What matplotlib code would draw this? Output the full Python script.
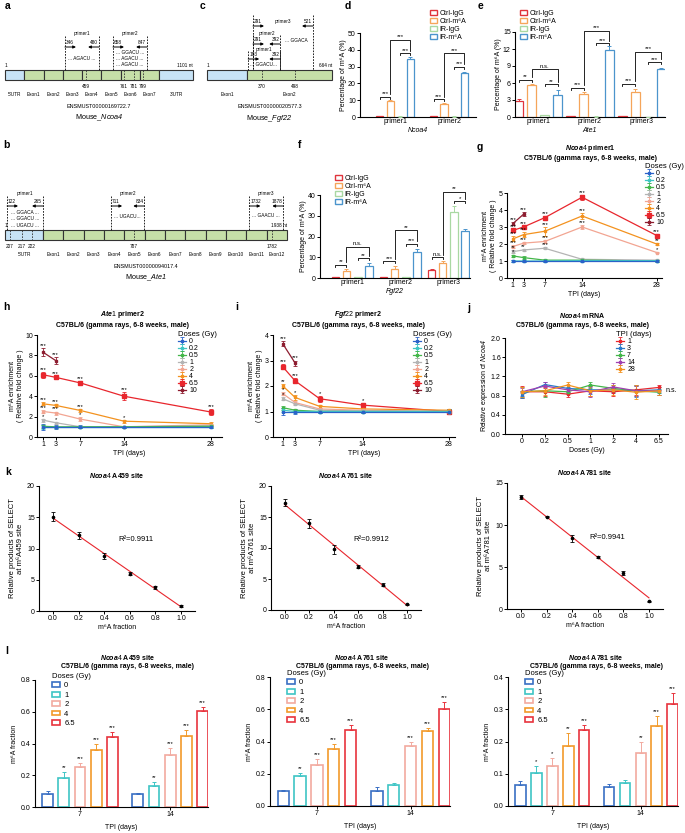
import numpy as np
import matplotlib
matplotlib.use("Agg")
import matplotlib.pyplot as plt
from matplotlib.patches import Rectangle, Patch

plt.rcParams["font.family"] = ["Liberation Sans", "DejaVu Sans"]
plt.rcParams["font.sans-serif"] = ["Liberation Sans"]
plt.rcParams["mathtext.fontset"] = "custom"
plt.rcParams["mathtext.rm"] = "sans"
plt.rcParams["mathtext.it"] = "sans:italic:bold"
plt.rcParams["mathtext.sf"] = "sans:italic"
plt.rcParams["mathtext.bf"] = "sans:bold"
plt.rcParams["axes.linewidth"] = 0.8

# ---------------- data ----------------
# gene maps (a, b, c)
ncoa4_segments = ["5'UTR", "Exon1", "Exon2", "Exon3", "Exon4", "Exon5", "Exon6", "Exon7", "3'UTR"]
ncoa4_sites = ["459", "761", "781", "799"]
ncoa4_primers = [("primer1", "346", "480"), ("primer2", "658", "847")]
ncoa4_seqs = ["... AGACU ...", "... GGACU ...", "... AGACU ...", "... AGACU ..."]

fgf22_segments = ["Exon1", "Exon2"]
fgf22_sites = ["370", "498"]
fgf22_primers = [("primer3", "291", "521"), ("primer2", "291", "392"), ("primer1", "193", "392")]
fgf22_seqs = ["... GGACA", "... GGACU..."]

ate1_segments = ["5'UTR", "Exon1", "Exon2", "Exon3", "Exon4", "Exon5", "Exon6",
                 "Exon7", "Exon8", "Exon9", "Exon10", "Exon11", "Exon12"]
ate1_sites = ["207", "217", "222", "787", "1782"]
ate1_primers = [("primer1", "122", "265"), ("primer2", "711", "834"), ("primer3", "1732", "1878")]
ate1_seqs = ["... GGACA ...", "... GGACU ...", "... UGACU ...", "... UGACU...", "... GAACU ..."]

# MeRIP bars (d, e, f): rows = Ctrl-IgG, Ctrl-m6A, IR-IgG, IR-m6A
bar_series = ["Ctrl-IgG", "Ctrl-m\u2076A", "IR-IgG", "IR-m\u2076A"]
d_groups = ["primer1", "primer2"]
d_means = [[0.3, 0.3], [9.6, 7.8], [0.2, 0.2], [34.6, 26.0]]
d_errs = [[0.1, 0.1], [0.5, 0.4], [0.1, 0.1], [0.9, 1.0]]
d_sig = [(0, 0, 1, 12, "***"), (0, 2, 3, 38, "***"), (0, 1, 3, 46, "***"),
         (1, 0, 1, 10.5, "***"), (1, 2, 3, 30, "***"), (1, 1, 3, 38, "***")]

e_groups = ["primer1", "primer2", "primer3"]
e_means = [[2.8, 0.15, 0.12], [5.6, 4.1, 4.5], [0.35, 0.08, 0.05], [3.8, 11.8, 8.4]]
e_errs = [[0.35, 0.05, 0.05], [0.3, 0.4, 0.4], [0.08, 0.03, 0.02], [0.9, 0.7, 0.3]]
e_sig = [(0, 0, 1, 6.6, "**"), (0, 2, 3, 5.8, "**"), (0, 1, 3, 8.4, "n.s."),
         (1, 0, 1, 5.2, "***"), (1, 2, 3, 13.0, "***"), (1, 1, 3, 15.2, "***"),
         (2, 0, 1, 5.9, "***"), (2, 2, 3, 9.7, "***"), (2, 1, 3, 11.5, "***")]

f_groups = ["primer1", "primer2", "primer3"]
f_means = [[0.5, 0.5, 4.0], [3.5, 4.5, 7.0], [0.3, 0.3, 32.0], [6.0, 12.5, 22.5]]
f_errs = [[0.2, 0.2, 0.4], [1.0, 1.2, 1.0], [0.1, 0.1, 2.5], [1.2, 1.5, 1.0]]
f_sig = [(0, 0, 1, 6.5, "**"), (0, 2, 3, 9.5, "**"), (0, 1, 3, 15, "n.s."),
         (1, 0, 1, 8, "***"), (1, 2, 3, 16.5, "***"), (1, 1, 3, 23, "**"),
         (2, 0, 1, 10, "n.s."), (2, 2, 3, 37, "*"), (2, 1, 3, 41.5, "**")]

# time courses (g, h, i)
tpi = [1, 3, 7, 14, 28]
doses = ["0", "0.2", "0.5", "1", "2", "4", "6.5", "10"]
g_means = [[1.0, 1.0, 1.0, 1.0, 1.0], [1.0, 1.0, 1.0, 1.02, 1.02], [1.3, 1.2, 1.05, 1.05, 1.0],
           [1.55, 1.65, 1.75, 1.1, 1.05], [1.85, 2.05, 2.15, 3.0, 1.5], [2.3, 2.55, 2.75, 3.65, 2.0],
           [2.8, 3.0, 3.55, 4.75, 2.5], [3.2, 3.75]]
g_errs = [[0.05, 0.05, 0.04, 0.04, 0.04], [0.05, 0.04, 0.04, 0.04, 0.04], [0.08, 0.08, 0.05, 0.04, 0.04],
          [0.08, 0.05, 0.05, 0.05, 0.04], [0.08, 0.05, 0.08, 0.12, 0.05], [0.15, 0.15, 0.25, 0.2, 0.05],
          [0.1, 0.08, 0.08, 0.15, 0.1], [0.1, 0.12]]
g_stars = [["", "", "", "", ""], ["", "", "", "", ""], ["*", "", "", "", ""],
           ["**", "**", "***", "", ""], ["***", "***", "***", "***", "*"], ["***", "***", "***", "***", "**"],
           ["***", "***", "***", "***", "***"], ["***", "***"]]

h_means = [[1.0, 1.0, 1.0, 1.0, 1.0], [1.0, 1.0, 1.0, 1.0, 1.0], [1.05, 1.0, 1.0, 1.0, 1.05],
           [1.65, 1.4, 1.0, 1.0, 1.1], [2.5, 2.35, 1.75, 1.0, 1.2], [3.25, 3.1, 2.6, 1.55, 1.3],
           [6.1, 5.85, 5.3, 4.0, 2.45], [8.3, 7.5]]
h_errs = [[0.3, 0.2, 0.15, 0.1, 0.1], [0.2, 0.1, 0.1, 0.1, 0.1], [0.15, 0.1, 0.1, 0.1, 0.1],
          [0.15, 0.1, 0.1, 0.1, 0.1], [0.15, 0.15, 0.2, 0.1, 0.1], [0.15, 0.15, 0.15, 0.15, 0.15],
          [0.3, 0.15, 0.15, 0.4, 0.3], [0.4, 0.35]]
h_stars = [["", "", "", "", ""], ["", "", "", "", ""], ["", "", "", "", ""],
           ["*", "*", "", "", ""], ["***", "***", "*", "", ""], ["***", "***", "***", "*", ""],
           ["***", "***", "***", "***", "***"], ["***", "***"]]

i_means = [[1.0, 1.0, 1.0, 1.0, 1.0], [1.05, 1.0, 1.0, 1.0, 1.0], [1.15, 1.05, 1.0, 1.0, 1.0],
           [1.5, 1.3, 1.05, 1.02, 1.0], [1.7, 1.35, 1.1, 1.05, 1.0], [2.0, 1.55, 1.2, 1.1, 1.05],
           [2.75, 2.2, 1.5, 1.25, 1.0], [3.65, 2.9]]
i_errs = [[0.12, 0.08, 0.06, 0.06, 0.1], [0.08, 0.06, 0.05, 0.05, 0.1], [0.08, 0.05, 0.05, 0.05, 0.08],
          [0.06, 0.05, 0.05, 0.05, 0.06], [0.06, 0.05, 0.05, 0.05, 0.06], [0.08, 0.08, 0.05, 0.05, 0.06],
          [0.1, 0.1, 0.12, 0.1, 0.08], [0.1, 0.1]]
i_stars = [["", "", "", "", ""], ["", "", "", "", ""], ["", "", "", "", ""],
           ["*", "", "", "", ""], ["*", "", "", "", ""], ["**", "*", "", "", ""],
           ["***", "***", "*", "*", ""], ["***", "***"]]

# Ncoa4 mRNA (j)
j_doses = ["0", "0.2", "0.5", "1", "2", "4", "6.5"]
j_tpi = ["1", "3", "7", "14", "28"]
j_means = [[0.88, 0.88, 0.83, 0.9, 0.88, 0.92, 0.97],
           [0.82, 1.03, 0.95, 0.92, 0.92, 0.9, 0.92],
           [0.88, 0.9, 0.88, 1.02, 0.95, 0.9, 0.87],
           [0.88, 1.0, 0.92, 0.88, 0.98, 0.9, 0.9],
           [0.88, 0.9, 1.02, 0.9, 0.92, 0.87, 0.9]]
j_errs = [[0.12, 0.08, 0.05, 0.1, 0.08, 0.1, 0.06],
          [0.08, 0.06, 0.08, 0.08, 0.06, 0.12, 0.06],
          [0.1, 0.12, 0.05, 0.06, 0.08, 0.1, 0.06],
          [0.08, 0.08, 0.06, 0.1, 0.08, 0.1, 0.08],
          [0.1, 0.08, 0.06, 0.1, 0.1, 0.15, 0.08]]

# SELECT standard curves (k)
m6a_frac = [0.0, 0.2, 0.4, 0.6, 0.8, 1.0]
k_a459 = [15.1, 12.1, 8.8, 6.0, 3.8, 0.8]
k_a459_err = [0.7, 0.6, 0.5, 0.3, 0.2, 0.1]
k_a761 = [17.3, 14.0, 9.8, 7.0, 4.1, 0.9]
k_a761_err = [0.6, 0.7, 0.7, 0.2, 0.2, 0.1]
k_a781 = [13.3, 11.0, 8.4, 6.2, 4.3, 0.9]
k_a781_err = [0.25, 0.1, 0.4, 0.1, 0.2, 0.1]
k_r2 = ["R\u00b2=0.9911", "R\u00b2=0.9912", "R\u00b2=0.9941"]

# m6A fraction (l): rows = doses 0, 1, 2, 4, 6.5 ; cols = TPI 7, 14
l_tpi = ["7", "14"]
l_doses = ["0", "1", "2", "4", "6.5"]
l_a459 = [[0.08, 0.08], [0.18, 0.135], [0.25, 0.33], [0.36, 0.45], [0.44, 0.605]]
l_a459_err = [[0.02, 0.008], [0.04, 0.02], [0.025, 0.04], [0.035, 0.035], [0.03, 0.025]]
l_a459_stars = [["", ""], ["**", "**"], ["***", "***"], ["***", "***"], ["***", "***"]]
l_a761 = [[0.09, 0.09], [0.185, 0.13], [0.255, 0.37], [0.355, 0.468], [0.47, 0.60]]
l_a761_err = [[0.01, 0.03], [0.02, 0.01], [0.035, 0.03], [0.03, 0.015], [0.03, 0.045]]
l_a761_stars = [["", ""], ["**", ""], ["***", "***"], ["***", "***"], ["***", "***"]]
l_a781 = [[0.065, 0.06], [0.103, 0.072], [0.125, 0.163], [0.185, 0.247], [0.237, 0.315]]
l_a781_err = [[0.012, 0.008], [0.02, 0.008], [0.025, 0.034], [0.04, 0.033], [0.013, 0.035]]
l_a781_stars = [["", ""], ["*", ""], ["*", "**"], ["**", "***"], ["***", "***"]]

# ---------------- styling ----------------
bar_colors = ["#e0343c", "#f5a55a", "#a9d8a2", "#4b94cc"]
dose_colors = ["#2a62c9", "#3fc6c3", "#43b649", "#b4b4b4", "#f2a592", "#f3921f", "#e8262d", "#8d1c2f"]
tpi_colors = ["#e8262d", "#2a7ac9", "#43b649", "#a040b0", "#f3921f"]
l_colors = ["#3a6fc4", "#3ec5c5", "#f2aaa0", "#f29a2a", "#e8333d"]
UTR_C, EXON_C = "#c7e3f6", "#c6dfa8"
FS, FSD = 5, 3.4

W, H = 685, 833
fig = plt.figure(figsize=(W / 100, H / 100), dpi=100)


def box(x0, y0, x1, y1):
    return [x0 / W, 1 - y1 / H, (x1 - x0) / W, (y1 - y0) / H]


def ftext(x, y, s, **kw):
    kw.setdefault("ha", "center")
    kw.setdefault("va", "center")
    fig.text(x / W, 1 - y / H, s, **kw)


def style(ax, xlen=2):
    ax.spines["top"].set_visible(False)
    ax.spines["right"].set_visible(False)
    ax.tick_params(axis="both", direction="out", length=2, width=0.7, pad=1, labelsize=FS)
    ax.tick_params(axis="x", length=xlen)


def gene_map(x0, x1, ybar, segs, lens, utr, sites, site_pos, primers, prim_pos, seqs, seq_pos,
             nt_label, ens, name):
    ax = fig.add_axes(box(x0, 0, x1, H))
    tot = sum(lens)
    ax.set_xlim(0, tot)
    ax.set_ylim(H, 0)
    ax.axis("off")
    upx = (x1 - x0) / tot
    start = 0
    for s, l, u in zip(segs, lens, utr):
        ax.add_patch(Rectangle((start, ybar), l, 10, facecolor=UTR_C if u else EXON_C,
                               edgecolor="#333333", lw=0.8, clip_on=False))
        ax.text(start + l / 2, ybar + 24, s, ha="center", va="center", fontsize=FSD)
        start += l
    for lab, p in zip(sites, site_pos):
        ax.plot([p, p], [ybar, ybar + 10], ls=(0, (2, 1.5)), color="#333333", lw=0.6, clip_on=False)
        ax.text(p, ybar + 16, lab, ha="center", va="center", fontsize=FSD)
    ax.text(0, ybar - 5, "1", ha="left", va="center", fontsize=FSD)
    ax.text(tot, ybar - 5, nt_label, ha="right", va="center", fontsize=FSD)
    for (pname, s_lab, e_lab), (ps, pe, yname, ynum, ytop) in zip(primers, prim_pos):
        for p in (ps, pe):
            ax.plot([p, p], [ytop, ybar], ls=(0, (2, 1.5)), color="k", lw=0.6, clip_on=False)
        ax.text((ps + pe) / 2, yname, pname, ha="center", va="center", fontsize=FSD)
        ax.text(ps + 1 / upx, ynum, s_lab, ha="left", va="center", fontsize=FSD)
        ax.text(pe - 1 / upx, ynum, e_lab, ha="right", va="center", fontsize=FSD)
        ya = ynum + 5
        ax.annotate("", xy=(ps + 11 / upx, ya), xytext=(ps, ya),
                    arrowprops=dict(arrowstyle="-|>", lw=0.7, color="k", shrinkA=0, shrinkB=0,
                                    mutation_scale=4))
        ax.annotate("", xy=(pe - 11 / upx, ya), xytext=(pe, ya),
                    arrowprops=dict(arrowstyle="-|>", lw=0.7, color="k", shrinkA=0, shrinkB=0,
                                    mutation_scale=4))
    for txt, (sx, sy, ha) in zip(seqs, seq_pos):
        ax.text(sx, sy, txt, ha=ha, va="center", fontsize=FSD)
    ax.text(tot / 2, ybar + 36, ens, ha="center", va="center", fontsize=3.9)
    ax.text(tot / 2, ybar + 48, name, ha="center", va="center", fontsize=5.2)


def bar_panel(ax, groups, means, errs, colors, offsets, width, lw=0.9):
    x = np.arange(len(groups))
    for k in range(len(means)):
        xs = x + offsets[k]
        ax.bar(xs, means[k], width, facecolor="white", edgecolor=colors[k], linewidth=lw, zorder=2)
        ax.errorbar(xs, means[k], yerr=[np.zeros(len(xs)), errs[k]], fmt="none", ecolor=colors[k],
                    elinewidth=0.7, capsize=1.5, capthick=0.7, zorder=3)
    ax.set_xticks(x)
    ax.set_xticklabels(groups)


def sig_brackets(ax, sig, offsets):
    span = ax.get_ylim()[1]
    pad, short = 0.03 * span, 0.025 * span
    for g, i, j, h, txt in sig:
        ends = []
        for b in (i, j):
            lower = [h2 for g2, i2, j2, h2, _ in sig if g2 == g and h2 < h and b in (i2, j2)]
            ends.append(max(lower) + pad if lower else h - short)
        xa, xb = g + offsets[i], g + offsets[j]
        ax.plot([xa, xa, xb, xb], [ends[0], h, h, ends[1]], color="k", lw=0.6, clip_on=False)
        ax.text((xa + xb) / 2, h + 0.005 * span, txt, ha="center", va="bottom", fontsize=4.3)


def bar_legend(x, y):
    hs = [Patch(facecolor="white", edgecolor=c, lw=1.0, label=s) for s, c in zip(bar_series, bar_colors)]
    fig.legend(handles=hs, loc="upper left", bbox_to_anchor=(x / W, 1 - y / H), frameon=False,
               fontsize=FS, handlelength=1.0, handleheight=0.6, handletextpad=0.4,
               labelspacing=0.15, borderpad=0, borderaxespad=0)


def line_panel(ax, means, errs, stars):
    handles = []
    for k in range(len(means) - 1, -1, -1):
        m = means[k]
        xs = tpi[:len(m)]
        ms = 2.8 if doses[k] == "6.5" else 2.0
        h = ax.errorbar(xs, m, yerr=errs[k], color=dose_colors[k], lw=0.9, marker="s", ms=ms,
                        capsize=1.2, elinewidth=0.6, capthick=0.6, label=doses[k], clip_on=False)
        handles.append(h)
        for xx, yy, ee, st in zip(xs, m, errs[k], stars[k]):
            if st:
                ax.text(xx, yy + ee, st, ha="center", va="bottom", fontsize=4.2)
    ax.set_xticks(tpi)
    ax.set_xlabel("TPI (days)", fontsize=FS, labelpad=1)
    ax.set_ylabel("m\u2076A enrichment\n( Relative fold change )", fontsize=FS, labelpad=1)
    return handles[::-1]


def line_legend(handles, x, y, title):
    fig.legend(handles=handles, loc="upper left", bbox_to_anchor=(x / W, 1 - y / H), frameon=False,
               fontsize=FS, title=title, title_fontsize=FS + 0.5, alignment="left",
               handlelength=1.2, handletextpad=0.4, labelspacing=0.0, borderpad=0, borderaxespad=0)


def two_line_title(x, y, first):
    ftext(x, y, first, fontsize=FS, fontweight="bold")
    ftext(x, y + 10, "C57BL/6 (gamma rays, 6-8 weeks, male)", fontsize=FS, fontweight="bold")


# ---------------- panel letters ----------------
for lab, x, y in [("a", 5, 6), ("c", 200, 6), ("d", 345, 6), ("e", 478, 6), ("b", 3, 145),
                  ("f", 298, 145), ("g", 477, 147), ("h", 3, 307), ("i", 235, 307), ("j", 467, 308),
                  ("k", 5, 472), ("l", 5, 651)]:
    ftext(x, y, lab, fontsize=7.5, fontweight="bold", ha="left")

# ---------------- a, c, b : gene maps ----------------
gene_map(5, 193, 70, ncoa4_segments, [1, 1, 1, 1, 1, 1, 1, 1, 1.75],
         [True] + [False] * 7 + [True], ncoa4_sites, [4.2, 6.17, 6.69, 7.16],
         ncoa4_primers, [(3.11, 4.88, 33, 42, 36), (5.6, 7.37, 33, 42, 36)],
         ncoa4_seqs, [(4.0, 58, "center"), (6.48, 52, "center"), (6.48, 58, "center"), (6.48, 64, "center")],
         "1101 nt", "ENSMUST00000169722.7", r"Mouse_$\mathsf{Ncoa4}$")

gene_map(207, 332, 70, fgf22_segments, [1, 2.125], [True, False], fgf22_sites, [1.375, 2.2],
         fgf22_primers, [(1.15, 2.65, 21, 21, 15), (1.15, 1.83, 33, 39, 35), (1.03, 1.83, 49, 54, 51)],
         fgf22_seqs, [(1.95, 40, "left"), (1.4, 64, "center")],
         "664 nt", "ENSMUST00000020577.3", r"Mouse_$\mathsf{Fgf22}$")

gene_map(5, 287, 230, ate1_segments, [1.87] + [1] * 12, [True] + [False] * 12, ate1_sites,
         [0.25, 0.84, 1.33, 6.35, 13.15], ate1_primers,
         [(0.1, 1.87, 193, 201, 196), (5.22, 6.85, 193, 201, 196), (12.02, 13.69, 193, 201, 196)],
         ate1_seqs, [(1.0, 212, "center"), (1.0, 218, "center"), (1.0, 225, "center"),
                     (6.0, 216, "center"), (12.85, 215, "center")],
         "1938 nt", "ENSMUST00000094017.4", r"Mouse_$\mathsf{Ate1}$")

# ---------------- d ----------------
ax = fig.add_axes(box(360, 33, 476, 117))
off_d = [-0.28, -0.093, 0.093, 0.28]
bar_panel(ax, d_groups, d_means, d_errs, bar_colors, off_d, 0.13)
ax.set_xlim(-0.65, 1.5)
ax.set_ylim(0, 50)
ax.set_yticks([0, 10, 20, 30, 40, 50])
style(ax, xlen=0)
sig_brackets(ax, d_sig, off_d)
ax.set_ylabel("Percentage of m\u2076A (%)", fontsize=FS, labelpad=1)
ax.set_xlabel("Ncoa4", fontsize=FS, fontstyle="italic", labelpad=1)
bar_legend(430, 10)

# ---------------- e ----------------
ax = fig.add_axes(box(515, 32, 665, 117))
off_e = [-0.375, -0.125, 0.125, 0.375]
bar_panel(ax, e_groups, e_means, e_errs, bar_colors, off_e, 0.17)
ax.set_xlim(-0.45, 2.45)
ax.set_ylim(0, 15)
ax.set_yticks([0, 3, 6, 9, 12, 15])
style(ax, xlen=0)
sig_brackets(ax, e_sig, off_e)
ax.set_ylabel("Percentage of m\u2076A (%)", fontsize=FS, labelpad=1)
ax.set_xlabel("Ate1", fontsize=FS, fontstyle="italic", labelpad=1)
bar_legend(520, 10)

# ---------------- f ----------------
ax = fig.add_axes(box(320, 195, 470, 278))
off_f = [-0.35, -0.12, 0.12, 0.35]
bar_panel(ax, f_groups, f_means, f_errs, bar_colors, off_f, 0.16)
ax.set_xlim(-0.67, 2.45)
ax.set_ylim(0, 40)
ax.set_yticks([0, 10, 20, 30, 40])
style(ax, xlen=0)
sig_brackets(ax, f_sig, off_f)
ax.set_ylabel("Percentage of m\u2076A (%)", fontsize=FS, labelpad=1)
ax.set_xlabel("Fgf22", fontsize=FS, fontstyle="italic", labelpad=1)
bar_legend(335, 175)

# ---------------- g ----------------
ax = fig.add_axes(box(507, 193, 662, 278))
hs = line_panel(ax, g_means, g_errs, g_stars)
ax.set_xlim(-0.1, 29)
ax.set_ylim(0, 5)
ax.set_yticks([0, 1, 2, 3, 4, 5])
style(ax)
two_line_title(590, 148, r"$\mathit{Ncoa4}$ primer1")
line_legend(hs, 645, 163, "Doses (Gy)")

# ---------------- h ----------------
ax = fig.add_axes(box(37, 335, 222, 437))
hs = line_panel(ax, h_means, h_errs, h_stars)
ax.set_xlim(0, 29.8)
ax.set_ylim(0, 10)
ax.set_yticks([0, 2, 4, 6, 8, 10])
style(ax)
two_line_title(122, 315, r"$\mathit{Ate1}$ primer2")
line_legend(hs, 178, 331, "Doses (Gy)")

# ---------------- i ----------------
ax = fig.add_axes(box(273, 335, 455, 437))
hs = line_panel(ax, i_means, i_errs, i_stars)
ax.set_xlim(-0.6, 29)
ax.set_ylim(0, 4)
ax.set_yticks([0, 1, 2, 3, 4])
style(ax)
two_line_title(358, 315, r"$\mathit{Fgf22}$ primer2")
line_legend(hs, 413, 331, "Doses (Gy)")

# ---------------- j ----------------
ax = fig.add_axes(box(505, 338, 668, 434))
xj = np.arange(len(j_doses))
hs = []
for k in range(len(j_tpi)):
    hs.append(ax.errorbar(xj, j_means[k], yerr=j_errs[k], color=tpi_colors[k], lw=0.9, marker="s", ms=2.0,
                          capsize=1.2, elinewidth=0.6, capthick=0.6, label=j_tpi[k]))
ax.text(xj[-1] + 0.3, 0.9, "n.s.", ha="left", va="center", fontsize=FS)
ax.set_xticks(xj)
ax.set_xticklabels(j_doses)
ax.set_xlim(-0.75, 6.4)
ax.set_ylim(0, 2.0)
ax.set_yticks([0.0, 0.4, 0.8, 1.2, 1.6, 2.0])
ax.set_yticklabels(["0.0", "0.4", "0.8", "1.2", "1.6", "2.0"])
style(ax)
ax.set_xlabel("Doses (Gy)", fontsize=FS, labelpad=1)
ax.set_ylabel(r"Relative expression of $\mathsf{Ncoa4}$", fontsize=FS, labelpad=1)
two_line_title(582, 315, r"$\mathit{Ncoa4}$ mRNA")
line_legend(hs, 616, 331, "TPI (days)")

# ---------------- k ----------------
k_boxes = [(39, 486, 195, 611), (271, 486, 421, 610), (507, 483, 663, 609)]
k_vals = [(k_a459, k_a459_err, "459"), (k_a761, k_a761_err, "761"), (k_a781, k_a781_err, "781")]
k_ymax = [20, 20, 15]
k_r2_x = [0.62, 0.67, 0.64]
for bx, (vals, errs, site), ymax, r2, rx in zip(k_boxes, k_vals, k_ymax, k_r2, k_r2_x):
    ax = fig.add_axes(box(*bx))
    fit = np.polyfit(m6a_frac, vals, 1)
    xx = np.array([0.0, 1.0])
    ax.plot(xx, np.polyval(fit, xx), color="#e8262d", lw=0.8, zorder=1)
    ax.errorbar(m6a_frac, vals, yerr=errs, fmt="o", ms=1.6, color="k", capsize=1.2,
                elinewidth=0.6, capthick=0.6, zorder=2)
    ax.set_xlim(-0.11, 1.11)
    ax.set_ylim(0, ymax)
    ax.set_yticks(np.arange(0, ymax + 1, 5))
    ax.set_xticks(m6a_frac)
    ax.set_xticklabels(["%.1f" % v for v in m6a_frac])
    style(ax)
    ax.text(rx, 0.57, r2, transform=ax.transAxes, ha="center", va="center", fontsize=5.5)
    ax.set_xlabel("m\u2076A fraction", fontsize=FS, labelpad=1)
    ax.set_ylabel("Relative products of SELECT\nat m\u2076A%s site" % site, fontsize=FS + 0.5, labelpad=2)
    ax.set_title(r"$\mathit{Ncoa4}$ A%s site" % site, fontsize=FS, fontweight="bold", pad=6)

# ---------------- l ----------------
l_boxes = [(35, 680, 208, 807), (270, 677, 450, 806), (508, 677, 678, 806)]
l_sets = [(l_a459, l_a459_err, l_a459_stars, "459"), (l_a761, l_a761_err, l_a761_stars, "761"),
          (l_a781, l_a781_err, l_a781_stars, "781")]
l_ymax = [0.8, 0.8, 0.4]
l_title_x = [128, 362, 596]
off_l = [-0.36, -0.18, 0.0, 0.18, 0.36]
for bx, (vals, errs, stars, site), ymax, tx in zip(l_boxes, l_sets, l_ymax, l_title_x):
    ax = fig.add_axes(box(*bx))
    bar_panel(ax, l_tpi, vals, errs, l_colors, off_l, 0.12, lw=1.2)
    for k in range(len(vals)):
        for g in range(len(l_tpi)):
            if stars[k][g]:
                ax.text(g + off_l[k], vals[k][g] + errs[k][g] + 0.006 * ymax / 0.4, stars[k][g],
                        ha="center", va="bottom", fontsize=4.2)
    ax.set_xlim(-0.5, 1.42)
    ax.set_ylim(0, ymax)
    step = ymax / 4
    ticks = [step * n for n in range(5)]
    ax.set_yticks(ticks)
    ax.set_yticklabels(["%.1f" % t for t in ticks])
    style(ax)
    ax.set_xlabel("TPI (days)", fontsize=FS, labelpad=4)
    ax.set_ylabel("m\u2076A fraction", fontsize=FS, labelpad=2)
    two_line_title(tx, 657, r"$\mathit{Ncoa4}$ A%s site" % site)
    hs = [Patch(facecolor="white", edgecolor=c, lw=1.2, label=d) for d, c in zip(l_doses, l_colors)]
    fig.legend(handles=hs, loc="upper left", bbox_to_anchor=((bx[0] + 17) / W, 1 - (bx[1] - 7) / H),
               frameon=False, fontsize=FS + 0.5, title="Doses (Gy)", title_fontsize=FS + 0.5,
               alignment="left", handlelength=1.0, handleheight=0.6, handletextpad=0.6,
               labelspacing=0.3, borderpad=0, borderaxespad=0)

fig.savefig("out.png", dpi=100)
